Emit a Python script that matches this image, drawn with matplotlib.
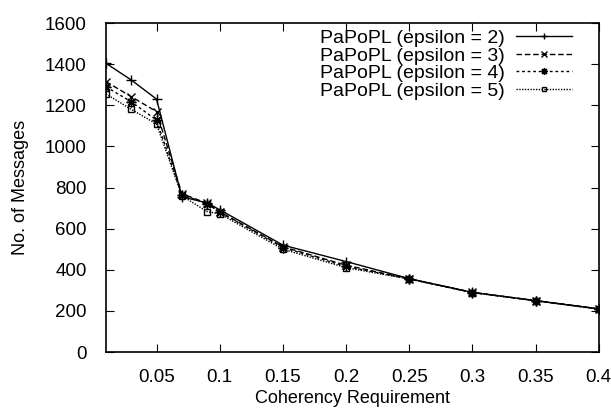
import matplotlib
matplotlib.use('Agg')
import matplotlib.pyplot as plt

# Datos
coherency = [0.01, 0.03, 0.05, 0.07, 0.09, 0.1, 0.15, 0.2, 0.25, 0.3, 0.35, 0.4]
eps2 = [1404, 1323, 1230, 755, 725, 692, 520, 440, 357, 290, 250, 210]
eps3 = [1315, 1242, 1169, 770, 723, 682, 512, 422, 356, 290, 250, 210]
eps4 = [1290, 1217, 1128, 765, 722, 680, 508, 416, 355, 289, 250, 209]
eps5 = [1255, 1180, 1109, 760, 683, 672, 500, 410, 355, 289, 249, 208]
labels = ['PaPoPL (epsilon = 2)', 'PaPoPL (epsilon = 3)',
          'PaPoPL (epsilon = 4)', 'PaPoPL (epsilon = 5)']
xticks = [0.05, 0.1, 0.15, 0.2, 0.25, 0.3, 0.35, 0.4]
xtick_labels = ['0.05', '0.1', '0.15', '0.2', '0.25', '0.3', '0.35', '0.4']
yticks = [0, 200, 400, 600, 800, 1000, 1200, 1400, 1600]

plt.rcParams['font.family'] = ['Liberation Sans', 'DejaVu Sans']
plt.rcParams['font.size'] = 13.5

fig = plt.figure(figsize=(6.11, 4.12), dpi=100)
ax = fig.add_axes([0.1735, 0.1456, 0.8065, 0.7985])

ax.plot(coherency, eps2, color='black', lw=1, linestyle='-', marker='+', ms=7, label=labels[0])
ax.plot(coherency, eps3, color='black', lw=1, linestyle=(0, (4, 2)), marker='x', ms=6, label=labels[1])
ax.plot(coherency, eps4, color='black', lw=1, linestyle=(0, (2, 2)), marker=(8, 2, 0), ms=7, label=labels[2])
ax.plot(coherency, eps5, color='black', lw=1, linestyle=(0, (1, 1)), marker='s', ms=5,
        fillstyle='none', mew=1, label=labels[3])

ax.set_xlim(0.01, 0.4)
ax.set_ylim(0, 1600)
ax.set_xticks(xticks)
ax.set_xticklabels(xtick_labels)
ax.set_yticks(yticks)
ax.tick_params(direction='in', top=True, right=True, length=6, width=0.8)
ax.tick_params(axis='x', pad=12)
ax.tick_params(axis='y', pad=14)
for s in ax.spines.values():
    s.set_linewidth(1.2)

ax.set_xlabel('Coherency Requirement', fontsize=13, labelpad=3)
ax.set_ylabel('No. of Messages', fontsize=13, labelpad=11)

ax.legend(loc='upper right', bbox_to_anchor=(0.945, 0.981), frameon=False, markerfirst=False,
          handlelength=2.85, labelspacing=0.0, borderaxespad=0, borderpad=0,
          handletextpad=0.6, fontsize=14, markerscale=0.7)

plt.savefig('out.png', dpi=100)
